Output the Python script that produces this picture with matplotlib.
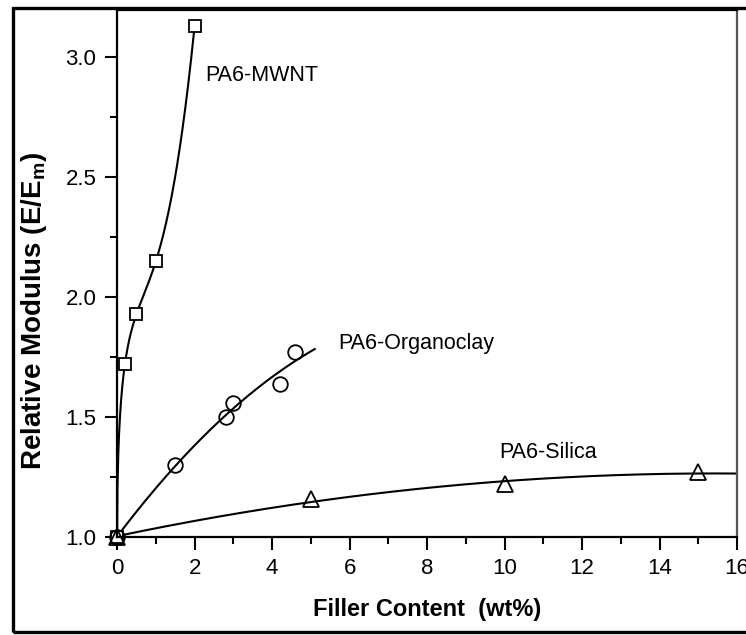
import numpy as np
import matplotlib.pyplot as plt
from matplotlib.patches import Rectangle

# data
mwnt_x = [0.0, 0.2, 0.5, 1.0, 2.0]
mwnt_y = [1.0, 1.72, 1.93, 2.15, 3.13]
clay_x = [0.0, 1.5, 2.8, 3.0, 4.2, 4.6]
clay_y = [1.0, 1.30, 1.50, 1.56, 1.64, 1.77]
silica_x = [0.0, 5.0, 10.0, 15.0]
silica_y = [1.0, 1.16, 1.22, 1.27]

plt.rcParams['font.family'] = ['Liberation Sans', 'DejaVu Sans']

fig = plt.figure(figsize=(7.46, 6.35), dpi=100)
ax = fig.add_axes([0.157, 0.154, 0.831, 0.830])

# outer frame of the picture
fig.patches.append(Rectangle((13 / 746, 3 / 635), 1.2, 1 - 11 / 635,
                             transform=fig.transFigure, fill=False,
                             lw=2.4, ec='black', clip_on=False))


def basis(x):
    x = np.asarray(x, dtype=float)
    return np.column_stack([np.ones_like(x), np.sqrt(x), x, x**2, x**3])


# fitted curves
coef, *_ = np.linalg.lstsq(basis(mwnt_x), np.array(mwnt_y), rcond=None)
xm = np.linspace(0, 2.0, 200)
ax.plot(xm, basis(xm) @ coef, color='black', lw=1.5)

pc = np.polyfit(clay_x, clay_y, 2)
xc = np.linspace(0, 5.1, 200)
ax.plot(xc, np.polyval(pc, xc), color='black', lw=1.5)

ps = np.polyfit(silica_x, silica_y, 2)
xs = np.linspace(0, 16, 200)
ax.plot(xs, np.polyval(ps, xs), color='black', lw=1.5)

# data markers
ax.plot(mwnt_x, mwnt_y, 's', ms=9, mfc='white', mec='black', mew=1.3, clip_on=False)
ax.plot(clay_x, clay_y, 'o', ms=10.5, mfc='none', mec='black', mew=1.3, clip_on=False)
ax.plot(silica_x, silica_y, '^', ms=11, mfc='none', mec='black', mew=1.3, clip_on=False)

ax.text(2.27, 2.925, 'PA6-MWNT', fontsize=15.5, va='center')
ax.text(5.7, 1.808, 'PA6-Organoclay', fontsize=15.5, va='center')
ax.text(9.87, 1.354, 'PA6-Silica', fontsize=15.5, va='center')

ax.set_xlim(0, 16)
ax.set_ylim(1.0, 3.196)
ax.set_xticks(np.arange(0, 17, 2))
ax.set_xticks(np.arange(1, 16, 2), minor=True)
ax.set_yticks([1.0, 1.5, 2.0, 2.5, 3.0])
ax.set_yticks([1.25, 1.75, 2.25, 2.75], minor=True)
ax.set_yticklabels(['1.0', '1.5', '2.0', '2.5', '3.0'])

ax.tick_params(which='both', direction='out', top=False, right=False,
               labelsize=16, width=1.5)
ax.tick_params(which='major', length=9, pad=6)
ax.tick_params(which='minor', length=5)
for s in ax.spines.values():
    s.set_linewidth(1.6)
ax.spines['right'].set_color('#555555')

ax.set_xlabel('Filler Content  (wt%)', fontsize=17, fontweight='bold', labelpad=14)
ax.set_ylabel('Relative Modulus (E/E$_\\mathregular{m}$)', fontsize=20,
              fontweight='bold')
ax.yaxis.set_label_coords(-0.11, 0.429)

fig.savefig('out.png', dpi=100)
